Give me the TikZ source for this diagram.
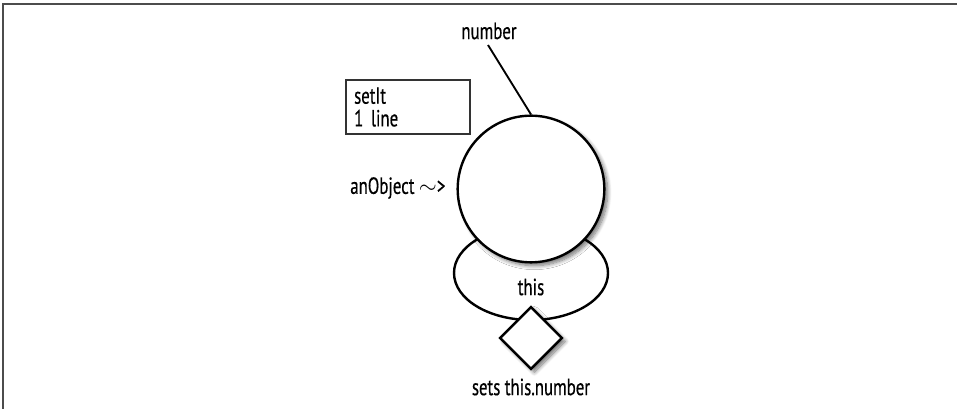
\documentclass[tikz,border=0pt]{standalone}
\usepackage{fontspec}
\setmainfont{PT Sans}[FakeStretch=0.72, FakeBold=0.5]
\usetikzlibrary{shapes.geometric,shadows.blur}
\begin{document}
\begin{tikzpicture}[x=0.75pt,y=-0.75pt,
  font=\fontsize{17.5}{19}\selectfont,
  frame/.style={draw=black!70, line width=1.2pt},
  outline/.style={draw=black, line width=1.8pt, fill=white},
  shadowed/.style={blur shadow={shadow xshift=2.5pt, shadow yshift=-2.5pt, shadow blur steps=8, shadow blur radius=3pt, shadow opacity=55}},
  lbl/.style={inner sep=1pt},
  link/.style={draw=black, line width=1.4pt}]
\useasboundingbox (0,0) rectangle (957,409);
\draw[frame] (3,409) -- (3,4) -- (957,4);
% ellipse "this"
\node[ellipse, outline, minimum width=115.5pt, minimum height=70.5pt, inner sep=0pt] (ell) at (531,273) {};
% big circle
\node[circle, outline, shadowed, minimum size=110pt, inner sep=0pt] (circ) at (531,189) {};
\node[lbl] (this) at (531,287) {this};
% diamond
\node[diamond, outline, shadowed, minimum size=47pt, inner sep=0pt, aspect=1] (dia) at (531,338) {};
\node[lbl] (sets) at (531,387) {sets this.number};
% number label and link
\node[lbl] (num) at (489,31) {number};
\coordinate (numfoot) at (488,45);
\draw[link] (numfoot) -- (circ.north);
% setIt box
\node[draw=black!80, line width=1.5pt, minimum width=93pt, minimum height=40pt, text width=80pt, align=left, inner sep=0pt, font=\fontsize{17.5}{17}\selectfont] (box) at (407.5,107) {setIt\\1 line};
% anObject
\node[lbl, anchor=east] (obj) at (447,188) {anObject $\sim$>};
\end{tikzpicture}
\end{document}
